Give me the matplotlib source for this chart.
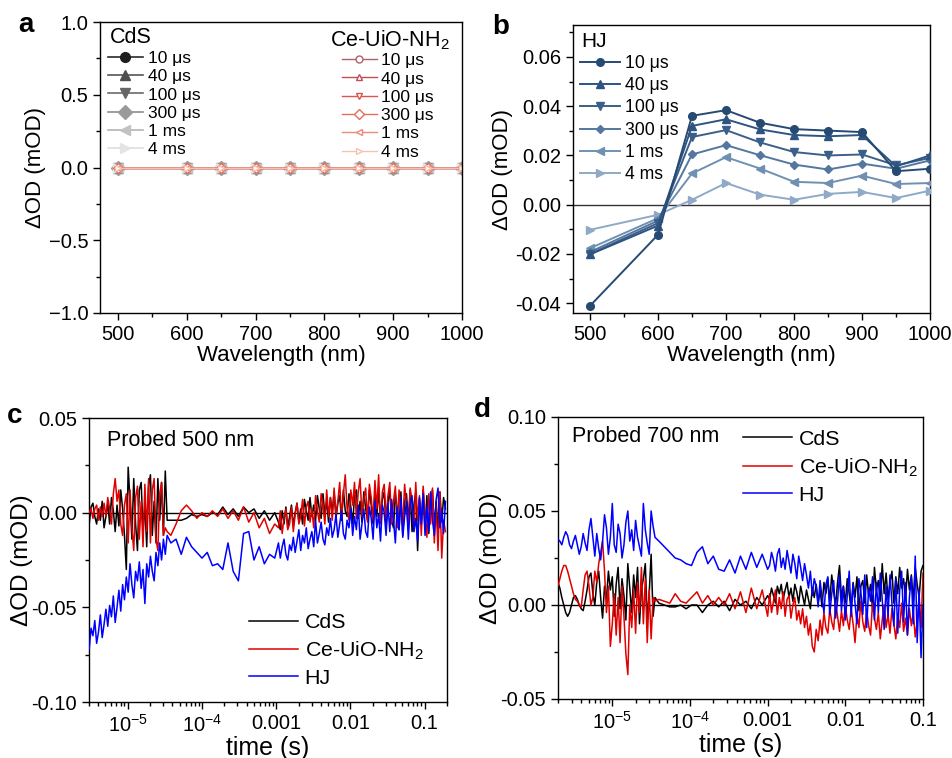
import numpy as np
import matplotlib
matplotlib.use('Agg')
import matplotlib.pyplot as plt
from matplotlib.ticker import MultipleLocator, FormatStrFormatter, FixedLocator, LogLocator, NullFormatter

plt.rcParams['font.family'] = ['Liberation Sans', 'DejaVu Sans']
plt.rcParams['mathtext.fontset'] = 'custom'
plt.rcParams['mathtext.rm'] = 'Liberation Sans'
plt.rcParams['mathtext.it'] = 'Liberation Sans:italic'
plt.rcParams['axes.linewidth'] = 1.0

# ---- data ----
wavelength = [500, 600, 650, 700, 750, 800, 850, 900, 950, 1000]
delays = ['10 μs', '40 μs', '100 μs', '300 μs', '1 ms', '4 ms']

# panel a: CdS and Ce-UiO-NH2 show no signal at any delay
no_signal = [0, 0, 0, 0, 0, 0, 0, 0, 0, 0]

# panel b: HJ spectra, one list per delay
hj_10us = [-0.0411, -0.0122, 0.0361, 0.0384, 0.0333, 0.0307, 0.0301, 0.0295, 0.0136, 0.0146]
hj_40us = [-0.0202, -0.0085, 0.0320, 0.0347, 0.0306, 0.0283, 0.0278, 0.0283, 0.0156, 0.0200]
hj_100us = [-0.0200, -0.0075, 0.0275, 0.0303, 0.0253, 0.0214, 0.0200, 0.0204, 0.0160, 0.0190]
hj_300us = [-0.0192, -0.0065, 0.0204, 0.0242, 0.0201, 0.0163, 0.0143, 0.0167, 0.0146, 0.0180]
hj_1ms = [-0.0177, -0.0055, 0.0127, 0.0193, 0.0147, 0.0093, 0.0088, 0.0118, 0.0084, 0.0088]
hj_4ms = [-0.0102, -0.0041, 0.0020, 0.0088, 0.0041, 0.0020, 0.0044, 0.0052, 0.0027, 0.0057]
hj_spectra = [hj_10us, hj_40us, hj_100us, hj_300us, hj_1ms, hj_4ms]

# panel c: kinetics probed at 500 nm, log10 of time (s)
c_logt = [
    # early
    -5.520, -5.495, -5.470, -5.445, -5.420, -5.395, -5.370, -5.345, -5.320, -5.295,
    -5.270, -5.245, -5.220, -5.195, -5.170, -5.145, -5.120, -5.095, -5.070, -5.045,
    -5.020, -4.995, -4.970, -4.945, -4.920, -4.895, -4.870, -4.845, -4.820, -4.795,
    -4.770, -4.745, -4.720, -4.695, -4.670, -4.645, -4.620, -4.595, -4.570, -4.545,
    -4.520, -4.495, -4.470,
    # middle
    -4.42, -4.35, -4.28, -4.21, -4.14, -4.07, -4.00, -3.93, -3.86, -3.79,
    -3.72, -3.65, -3.58, -3.51, -3.44, -3.37, -3.30, -3.23, -3.16, -3.09, -3.02,
    # late
    -2.970, -2.945, -2.920, -2.895, -2.870, -2.845, -2.820, -2.795, -2.770, -2.745,
    -2.720, -2.695, -2.670, -2.645, -2.620, -2.595, -2.570, -2.545, -2.520, -2.495,
    -2.470, -2.445, -2.420, -2.395, -2.370, -2.345, -2.320, -2.295, -2.270, -2.245,
    -2.220, -2.195, -2.170, -2.145, -2.120, -2.095, -2.070, -2.045, -2.020, -1.995,
    -1.970, -1.945, -1.920, -1.895, -1.870, -1.845, -1.820, -1.795, -1.770, -1.745,
    -1.720, -1.695, -1.670, -1.645, -1.620, -1.595, -1.570, -1.545, -1.520, -1.495,
    -1.470, -1.445, -1.420, -1.395, -1.370, -1.345, -1.320, -1.295, -1.270, -1.245,
    -1.220, -1.195, -1.170, -1.145, -1.120, -1.095, -1.070, -1.045, -1.020, -0.995,
    -0.970, -0.945, -0.920, -0.895, -0.870, -0.845, -0.820, -0.795, -0.770, -0.745,
    -0.720]
c_cds = [
    -0.006, 0.003, 0.005, -0.002, -0.006, 0.002, -0.004, 0.006, -0.008, -0.002,
    0.005, -0.006, 0.008, 0.001, -0.010, 0.004, -0.007, 0.012, 0.002, -0.012,
    -0.030, 0.024, 0.006, -0.014, 0.018, -0.006, -0.020, 0.012, 0.016, -0.010,
    0.004, -0.018, 0.014, 0.020, -0.012, 0.006, -0.016, 0.018, -0.004, 0.016,
    -0.012, 0.022, -0.004,
    -0.004, -0.004, -0.004, -0.003, -0.001, -0.002, -0.001, -0.002, 0.000, -0.001,
    0.003, -0.001, 0.002, -0.002, 0.003, 0.000, 0.002, -0.003, 0.001, -0.004, 0.000,
    -0.005, -0.009, 0.001, -0.006, 0.003, -0.008, -0.002, 0.004, -0.007, 0.000,
    0.005, -0.005, 0.002, -0.006, 0.007, 0.001, -0.004, 0.008, -0.002, 0.004,
    -0.004, 0.009, 0.002, -0.003, 0.010, -0.001, 0.006, -0.005, 0.008, 0.000,
    0.011, -0.003, 0.005, 0.009, -0.004, 0.012, 0.001, -0.002, 0.010, 0.003,
    -0.006, 0.009, 0.012, -0.003, 0.006, -0.005, 0.011, 0.002, -0.004, 0.012,
    0.004, -0.006, 0.010, -0.002, 0.013, -0.005, 0.007, 0.011, -0.007, 0.005,
    0.012, -0.004, -0.008, 0.010, 0.002, -0.009, 0.011, -0.012, 0.006, 0.010,
    -0.005, 0.012, -0.010, 0.004, 0.011, -0.020, 0.007, -0.006, 0.012, -0.009,
    0.009, -0.011, 0.003, 0.012, -0.008, 0.006, -0.010, 0.011, -0.005, 0.008,
    0.002]
c_ce = [
    0.000, 0.002, -0.003, 0.002, 0.004, -0.004, 0.003, -0.002, 0.005, -0.002,
    0.008, 0.002, -0.006, 0.010, 0.018, 0.006, 0.012, -0.006, -0.012, 0.004,
    0.010, -0.016, 0.012, -0.008, -0.020, 0.008, 0.014, -0.014, 0.006, -0.018,
    0.015, -0.010, 0.018, -0.016, 0.012, 0.018, -0.014, -0.020, 0.010, 0.016,
    -0.012, -0.008, -0.010,
    -0.012, -0.006, 0.001, 0.004, 0.001, -0.003, 0.000, -0.002, 0.001, -0.002,
    0.002, -0.003, 0.001, -0.004, 0.003, -0.005, 0.000, -0.008, -0.003, -0.011, -0.006,
    -0.008, 0.001, -0.011, -0.003, 0.002, -0.009, -0.006, 0.003, -0.010, -0.001,
    0.005, -0.006, -0.002, 0.007, -0.007, 0.003, 0.006, -0.005, 0.002, -0.008,
    0.009, 0.001, -0.005, 0.010, 0.004, -0.006, 0.012, -0.002, 0.008, -0.004,
    0.013, -0.001, 0.006, 0.016, -0.003, 0.010, 0.020, 0.002, -0.004, 0.012,
    0.004, 0.016, -0.003, 0.011, 0.018, -0.002, 0.007, 0.013, -0.005, 0.015,
    0.008, -0.004, 0.017, 0.002, 0.020, -0.006, 0.011, 0.015, -0.003, 0.009,
    0.016, -0.006, 0.006, 0.014, -0.008, 0.012, 0.001, -0.007, 0.015, 0.004,
    -0.009, 0.013, 0.006, -0.010, 0.016, -0.004, 0.009, -0.012, 0.014, -0.002,
    -0.013, 0.010, -0.006, 0.013, -0.016, 0.004, -0.020, 0.011, -0.024, -0.004,
    -0.010]
c_hj = [
    -0.072, -0.061, -0.065, -0.057, -0.069, -0.063, -0.054, -0.066, -0.059, -0.051,
    -0.060, -0.049, -0.055, -0.044, -0.058, -0.050, -0.041, -0.052, -0.038, -0.046,
    -0.034, -0.042, -0.027, -0.038, -0.045, -0.031, -0.036, -0.026, -0.040, -0.030,
    -0.048, -0.027, -0.034, -0.023, -0.031, -0.036, -0.021, -0.028, -0.016, -0.025,
    -0.014, -0.022, -0.012,
    -0.016, -0.014, -0.022, -0.013, -0.018, -0.021, -0.024, -0.021, -0.028, -0.027,
    -0.030, -0.016, -0.031, -0.036, -0.011, -0.010, -0.025, -0.018, -0.027, -0.022, -0.024,
    -0.016, -0.024, -0.018, -0.014, -0.022, -0.025, -0.017, -0.020, -0.013, -0.021,
    -0.015, -0.009, -0.020, -0.012, -0.016, -0.008, -0.019, -0.014, -0.010, -0.018,
    -0.004, -0.016, -0.011, -0.005, -0.014, -0.017, -0.008, -0.012, -0.003, -0.013,
    -0.009, -0.001, -0.013, -0.006, 0.001, -0.011, -0.014, -0.004, -0.008, 0.002,
    -0.012, -0.002, -0.009, 0.004, -0.014, -0.006, 0.002, -0.010, -0.013, 0.003,
    -0.003, -0.014, 0.006, -0.008, -0.001, -0.015, 0.004, 0.000, -0.012, 0.005,
    -0.010, 0.007, -0.004, -0.016, 0.003, -0.009, 0.008, -0.013, -0.002, 0.006,
    -0.014, 0.004, 0.009, -0.010, -0.003, -0.015, 0.008, -0.006, 0.010, -0.012,
    0.003, -0.010, 0.011, -0.004, -0.012, 0.007, 0.013, -0.008, 0.002, -0.011,
    0.006]

# panel d: kinetics probed at 700 nm, log10 of time (s)
d_logt = [
    # early
    -5.700, -5.675, -5.650, -5.625, -5.600, -5.575, -5.550, -5.525, -5.500, -5.475,
    -5.450, -5.425, -5.400, -5.375, -5.350, -5.325, -5.300, -5.275, -5.250, -5.225,
    -5.200, -5.175, -5.150, -5.125, -5.100, -5.075, -5.050, -5.025, -5.000, -4.975,
    -4.950, -4.925, -4.900, -4.875, -4.850, -4.825, -4.800, -4.775, -4.750, -4.725,
    -4.700, -4.675, -4.650, -4.625, -4.600, -4.575, -4.550, -4.525, -4.500, -4.475,
    -4.450,
    # middle
    -4.40, -4.33, -4.26, -4.19, -4.12, -4.05, -3.98, -3.91, -3.84, -3.77,
    -3.70, -3.63, -3.56, -3.49, -3.42, -3.35, -3.28, -3.21, -3.14, -3.07, -3.00,
    # late
    -2.975, -2.950, -2.925, -2.900, -2.875, -2.850, -2.825, -2.800, -2.775, -2.750,
    -2.725, -2.700, -2.675, -2.650, -2.625, -2.600, -2.575, -2.550, -2.525, -2.500,
    -2.475, -2.450, -2.425, -2.400, -2.375, -2.350, -2.325, -2.300, -2.275, -2.250,
    -2.225, -2.200, -2.175, -2.150, -2.125, -2.100, -2.075, -2.050, -2.025, -2.000,
    -1.975, -1.950, -1.925, -1.900, -1.875, -1.850, -1.825, -1.800, -1.775, -1.750,
    -1.725, -1.700, -1.675, -1.650, -1.625, -1.600, -1.575, -1.550, -1.525, -1.500,
    -1.475, -1.450, -1.425, -1.400, -1.375, -1.350, -1.325, -1.300, -1.275, -1.250,
    -1.225, -1.200, -1.175, -1.150, -1.125, -1.100, -1.075, -1.050, -1.025, -1.000]
d_cds = [
    0.012, 0.009, 0.004, 0.000, -0.004, -0.006, -0.004, 0.000, 0.004, 0.005,
    0.003, 0.000, -0.002, -0.003, 0.002, 0.008, 0.015, 0.017, 0.006, 0.000,
    0.012, 0.018, 0.004, -0.007, 0.010, 0.003, 0.018, 0.008, 0.015, -0.006,
    0.011, 0.020, -0.002, 0.014, 0.005, -0.008, 0.022, 0.009, -0.004, 0.016,
    0.004, 0.020, -0.010, 0.008, 0.014, 0.022, -0.008, 0.006, 0.027, -0.006,
    0.004,
    0.001, 0.000, -0.001, -0.001, 0.000, -0.002, 0.000, 0.000, -0.004, 0.000,
    0.002, -0.001, 0.002, -0.003, 0.003, 0.000, 0.002, -0.002, 0.004, 0.000, 0.005,
    0.003, 0.009, 0.005, 0.001, 0.010, 0.006, 0.011, 0.003, 0.008, 0.012,
    0.004, 0.009, 0.002, 0.011, 0.007, 0.001, 0.010, 0.005, 0.000, 0.008,
    0.003, -0.002, 0.009, 0.004, 0.011, 0.001, 0.008, -0.001, 0.012, 0.006,
    0.014, 0.002, 0.016, 0.007, 0.000, 0.012, 0.021, 0.004, 0.010, 0.001,
    0.014, 0.006, -0.002, 0.012, 0.004, 0.015, -0.003, 0.010, 0.013, 0.001,
    0.016, 0.005, 0.011, -0.002, 0.020, 0.008, 0.013, 0.002, 0.022, 0.006,
    0.017, 0.003, 0.012, 0.018, 0.001, 0.015, 0.006, 0.020, 0.009, 0.014,
    0.003, 0.019, 0.008, 0.016, 0.002, 0.020, 0.011, 0.004, 0.018, 0.021]
d_ce = [
    0.010, 0.014, 0.018, 0.021, 0.021, 0.018, 0.014, 0.010, 0.006, 0.003,
    0.002, 0.000, -0.001, 0.008, 0.016, 0.018, 0.010, 0.000, 0.004, 0.018,
    0.012, 0.022, 0.028, 0.034, 0.018, -0.004, 0.010, -0.022, -0.010, 0.006,
    -0.016, 0.004, -0.020, 0.010, -0.006, -0.026, -0.037, 0.000, -0.012, 0.008,
    -0.015, 0.012, -0.004, 0.020, -0.010, 0.014, -0.020, 0.008, -0.018, 0.004,
    0.002,
    0.003, 0.002, 0.001, 0.006, 0.002, 0.001, 0.004, 0.007, 0.001, 0.005,
    0.000, 0.004, 0.000, 0.006, -0.002, 0.007, -0.004, 0.009, -0.002, 0.008, -0.006,
    0.006, -0.004, 0.002, 0.008, -0.005, 0.004, -0.002, 0.007, -0.006, 0.003,
    0.005, -0.007, 0.000, 0.004, -0.008, -0.003, -0.010, -0.002, -0.012, -0.006,
    -0.016, -0.010, -0.022, -0.025, -0.013, -0.019, -0.008, -0.016, -0.004, -0.012,
    -0.015, -0.002, -0.009, -0.013, 0.001, -0.006, -0.014, -0.003, -0.011, 0.000,
    -0.008, -0.013, -0.002, -0.010, -0.020, -0.005, -0.012, 0.002, -0.009, -0.014,
    -0.003, -0.011, -0.016, 0.001, -0.007, -0.013, -0.004, -0.018, -0.008, 0.000,
    -0.012, -0.005, -0.015, -0.002, -0.010, -0.018, -0.006, -0.012, 0.001, -0.014,
    -0.007, -0.016, -0.002, -0.011, -0.004, -0.017, -0.009, 0.003, -0.012, 0.017]
d_hj = [
    0.035, 0.034, 0.032, 0.036, 0.039, 0.037, 0.032, 0.030, 0.034, 0.037,
    0.032, 0.027, 0.031, 0.038, 0.033, 0.029, 0.040, 0.046, 0.036, 0.026,
    0.038, 0.030, 0.024, 0.034, 0.048, 0.041, 0.027, 0.036, 0.054, 0.032,
    0.028, 0.043, 0.038, 0.025, 0.032, 0.044, 0.050, 0.034, 0.040, 0.029,
    0.045, 0.036, 0.031, 0.026, 0.054, 0.040, 0.033, 0.027, 0.050, 0.042,
    0.036,
    0.034, 0.031, 0.028, 0.025, 0.024, 0.022, 0.021, 0.028, 0.031, 0.022,
    0.026, 0.019, 0.018, 0.024, 0.017, 0.026, 0.019, 0.028, 0.020, 0.027, 0.019,
    0.021, 0.028, 0.024, 0.018, 0.027, 0.030, 0.020, 0.025, 0.019, 0.029,
    0.023, 0.017, 0.027, 0.022, 0.014, 0.026, 0.020, 0.013, 0.022, 0.016,
    0.009, 0.018, 0.005, 0.014, 0.010, -0.001, 0.013, 0.004, -0.004, 0.011,
    0.015, -0.005, 0.006, 0.013, -0.007, 0.002, 0.016, -0.003, 0.010, -0.008,
    0.005, 0.018, -0.006, 0.011, 0.001, -0.010, 0.014, 0.007, -0.005, 0.016,
    -0.012, 0.009, 0.002, 0.015, -0.008, 0.012, -0.004, 0.017, 0.003, -0.013,
    0.010, -0.006, 0.016, 0.001, -0.011, 0.014, -0.015, 0.008, 0.018, -0.009,
    0.012, -0.016, 0.004, 0.015, -0.010, 0.026, -0.020, 0.008, -0.028, 0.000]

# ---- styles ----
cds_line = ['#2a2a2a', '#555555', '#6a6a6a', '#8c8c8c', '#b4b4b4', '#dedede']
cds_face = ['#1e1e1e', '#4e4e4e', '#666666', '#9a9a9a', '#c2c2c2', '#e4e4e4']
ce_cols = ['#b0606a', '#c04e58', '#dc544e', '#e66c5c', '#ee8a78', '#f6c2b0']
hj_cols = ['#274a72', '#2e5482', '#3a6089', '#5477a0', '#7090b2', '#8eaac6']
marks = ['o', '^', 'v', 'D', '<', '>']

W, H = 952, 758
fig = plt.figure(figsize=(W / 100, H / 100), dpi=100)

def box(l, t, r, b):
    return [l / W, 1 - b / H, (r - l) / W, (b - t) / H]

ax_a = fig.add_axes(box(100, 22, 462, 313))
ax_b = fig.add_axes(box(573, 25, 930, 313))
ax_c = fig.add_axes(box(89, 418, 447, 702))
ax_d = fig.add_axes(box(558, 417, 923, 699))

for ax in (ax_a, ax_b, ax_c, ax_d):
    ax.tick_params(which='major', direction='out', length=5, width=1, labelsize=14.5,
                   top=False, right=False)
    ax.tick_params(which='minor', direction='out', length=3, width=1, top=False, right=False)

# ---- a ----
for i in range(6):
    ax_a.plot(wavelength, no_signal, color=cds_line[i], lw=1.2, marker=marks[i], ms=7,
              mfc=cds_face[i], mec=cds_face[i], label=delays[i])
hand_ce = []
for i in range(6):
    l, = ax_a.plot(wavelength, no_signal, color=ce_cols[i], lw=1.0, marker=marks[i], ms=5,
                   mfc='white', mec=ce_cols[i], mew=1.0, label=delays[i])
    hand_ce.append(l)
ax_a.set_xlim(474, 1000)
ax_a.set_ylim(-1.0, 1.0)
ax_a.xaxis.set_major_locator(MultipleLocator(100))
ax_a.xaxis.set_minor_locator(MultipleLocator(50))
ax_a.yaxis.set_major_locator(MultipleLocator(0.5))
ax_a.yaxis.set_minor_locator(MultipleLocator(0.25))
ax_a.set_xlabel('Wavelength (nm)', fontsize=16, labelpad=1)
ax_a.set_ylabel('ΔOD (mOD)', fontsize=16, labelpad=2)
h, lab = ax_a.get_legend_handles_labels()
leg1 = ax_a.legend(h[:6], lab[:6], loc='upper left', bbox_to_anchor=(0.022, 0.901),
                   frameon=False, fontsize=12.5, borderpad=0, borderaxespad=0,
                   handlelength=2.0, handletextpad=0.28, labelspacing=0.18)
ax_a.add_artist(leg1)
ax_a.legend(hand_ce, delays, loc='upper left', bbox_to_anchor=(0.668, 0.893),
            frameon=False, fontsize=12.5, borderpad=0, borderaxespad=0,
            handlelength=2.0, handletextpad=0.28, labelspacing=0.18)
ax_a.text(0.028, 0.928, 'CdS', transform=ax_a.transAxes, fontsize=15.5, va='baseline')
ax_a.text(0.635, 0.916, 'Ce-UiO-NH$_2$', transform=ax_a.transAxes, fontsize=15.5, va='baseline')

# ---- b ----
ax_b.axhline(0, color='#333333', lw=1.0, zorder=1)
for i in range(6):
    ax_b.plot(wavelength, hj_spectra[i], color=hj_cols[i], lw=1.4, marker=marks[i],
              ms=5.5 if marks[i] != 'D' else 4.5, label=delays[i], zorder=3 + (5 - i))
ax_b.set_xlim(475, 1000)
ax_b.set_ylim(-0.044, 0.073)
ax_b.xaxis.set_major_locator(MultipleLocator(100))
ax_b.xaxis.set_minor_locator(MultipleLocator(50))
ax_b.yaxis.set_major_locator(MultipleLocator(0.02))
ax_b.yaxis.set_minor_locator(MultipleLocator(0.01))
ax_b.yaxis.set_major_formatter(FormatStrFormatter('%.2f'))
ax_b.set_xlabel('Wavelength (nm)', fontsize=16, labelpad=1)
ax_b.set_ylabel('ΔOD (mOD)', fontsize=16, labelpad=2)
ax_b.legend(loc='upper left', bbox_to_anchor=(0.02, 0.8965), frameon=False, fontsize=12.7,
            borderpad=0, borderaxespad=0, handlelength=2.25, handletextpad=0.28,
            labelspacing=0.30)
ax_b.text(0.0224, 0.924, 'HJ', transform=ax_b.transAxes, fontsize=15, va='baseline')

# ---- c, d ----
def kinetics(ax, logt, cds, ce, hj, xlim, ylim, probe, legpos, textpos, labels):
    t = 10 ** np.array(logt)
    ax.axhline(0, color='black', lw=1.0, zorder=1)
    ax.plot(t, cds, color='black', lw=1.1, label='CdS', zorder=2)
    ax.plot(t, ce, color='#e00000', lw=1.1, label='Ce-UiO-NH$_2$', zorder=3)
    ax.plot(t, hj, color='#0000ff', lw=1.1, label='HJ', zorder=4)
    ax.set_xscale('log')
    ax.set_xlim(*xlim)
    ax.set_ylim(*ylim)
    ax.xaxis.set_major_locator(FixedLocator([1e-5, 1e-4, 1e-3, 1e-2, 1e-1]))
    ax.set_xticklabels(labels)
    ax.xaxis.set_minor_locator(LogLocator(base=10, subs=np.arange(2, 10), numticks=20))
    ax.xaxis.set_minor_formatter(NullFormatter())
    ax.yaxis.set_major_locator(MultipleLocator(0.05))
    ax.yaxis.set_minor_locator(MultipleLocator(0.025))
    ax.yaxis.set_major_formatter(FormatStrFormatter('%.2f'))
    ax.set_xlabel('time (s)', fontsize=18, labelpad=0)
    ax.set_ylabel('ΔOD (mOD)', fontsize=17.5, labelpad=-1)
    ax.legend(loc='upper left', bbox_to_anchor=legpos, frameon=False, fontsize=15.4,
              borderpad=0, borderaxespad=0, handlelength=2.3, handletextpad=0.3,
              labelspacing=0.34)
    ax.text(textpos[0], textpos[1], probe, transform=ax.transAxes, fontsize=15.5,
            va='baseline')

tlabels = ['$10^{-5}$', '$10^{-4}$', '0.001', '0.01', '0.1']
kinetics(ax_c, c_logt, c_cds, c_ce, c_hj, (3e-6, 0.2), (-0.10, 0.05), 'Probed 500 nm',
         (0.447, 0.313), (0.050, 0.901), tlabels)
kinetics(ax_d, d_logt, d_cds, d_ce, d_hj, (2e-6, 0.1), (-0.05, 0.10), 'Probed 700 nm',
         (0.507, 0.954), (0.038, 0.911), tlabels)

for s, x, y in [('a', 18, 32), ('b', 492, 34), ('c', 7, 423), ('d', 474, 417)]:
    fig.text(x / W, 1 - y / H, s, fontsize=20, fontweight='bold', va='baseline')

fig.savefig('out.png', dpi=100)
